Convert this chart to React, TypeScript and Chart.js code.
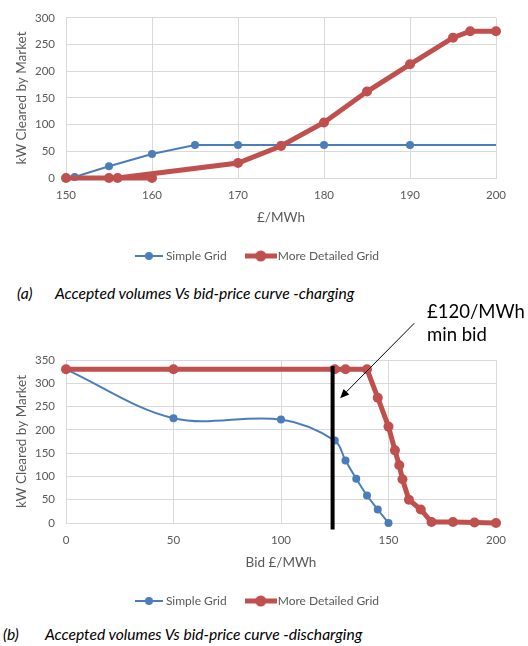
import React, { useEffect, useRef } from 'react';
import { Chart, registerables } from 'chart.js';

Chart.register(...registerables);

const FONT = 'Lato, "Open Sans", sans-serif';
const BLUE = '#4a7ebb';
const RED = '#c0504d';
const GRID = '#d9d9d9';
const TEXT = '#595959';

const seriesNames = ['Simple Grid', 'More Detailed Grid'];

// (a) charging
const chargeSimplePrice = [151, 155, 160, 165, 170, 175, 180, 190, 200];
const chargeSimpleKW = [2, 22, 45, 62, 62, 62, 62, 62, 62];
const chargeDetailedPrice = [150, 160, 155, 156, 170, 175, 180, 185, 190, 195, 197, 200];
const chargeDetailedKW = [0, 0, 0, 0, 28, 60, 104, 162, 213, 263, 275, 275];
const chargeXAxis = [150, 200, 10];
const chargeYAxis = [0, 300, 50];

// (b) discharging
const dischargeSimpleBid = [0, 50, 100, 125, 130, 135, 140, 145, 150];
const dischargeSimpleKW = [330, 225, 222, 177, 134, 95, 59, 29, 0];
const dischargeDetailedBid = [0, 50, 125, 130, 140, 145, 150, 153, 155, 156.5, 159.5, 165, 170, 180, 190, 200];
const dischargeDetailedKW = [330, 330, 330, 330, 330, 269, 207, 156, 124, 94, 50, 29, 2, 2, 1, 0];
const dischargeXAxis = [0, 200, 50];
const dischargeYAxis = [0, 350, 50];

// annotation (data units)
const minBidPrice = 124;
const minBidSpan = [337, -14];
const arrowTail = [162, 429];
const arrowHead = [127.5, 268];

const zip = (xs: number[], ys: number[]) => xs.map((x, i) => ({ x, y: ys[i] }));

function legendIcon(color: string, width: number, lineWidth: number, radius: number) {
  const c = document.createElement('canvas');
  c.width = width;
  c.height = 14;
  const ctx = c.getContext('2d')!;
  ctx.strokeStyle = color;
  ctx.lineWidth = lineWidth;
  ctx.beginPath();
  ctx.moveTo(0, 7);
  ctx.lineTo(width, 7);
  ctx.stroke();
  ctx.fillStyle = color;
  ctx.beginPath();
  ctx.arc(width / 2, 7, radius, 0, Math.PI * 2);
  ctx.fill();
  return c;
}

function buildConfig(opts: any) {
  const { simple, detailed, xAxis, yAxis, xTitle, topPad, smoothSimple, hideLastSimplePoint, extra, plugins } = opts;
  const blueIcon = legendIcon(BLUE, 28, 2, 4);
  const redIcon = legendIcon(RED, 32, 5, 5.5);
  const nSimple = simple.length;
  return {
    type: 'scatter',
    data: {
      datasets: [
        {
          label: seriesNames[0],
          data: simple,
          showLine: true,
          borderColor: BLUE,
          backgroundColor: BLUE,
          borderWidth: 2,
          pointRadius: (c: any) => (hideLastSimplePoint && c.dataIndex === nSimple - 1 ? 0 : 4),
          pointBorderWidth: 0,
          tension: smoothSimple ? 0.35 : 0,
          order: 2,
          clip: false,
        },
        {
          label: seriesNames[1],
          data: detailed,
          showLine: true,
          borderColor: RED,
          backgroundColor: RED,
          borderWidth: 5,
          pointRadius: 5,
          pointBorderWidth: 0,
          tension: 0,
          order: 1,
          clip: false,
        },
        ...(extra || []),
      ],
    },
    options: {
      responsive: false,
      animation: false,
      devicePixelRatio: 1,
      layout: { padding: { top: topPad, right: 11, bottom: 3, left: 0 } },
      plugins: {
        tooltip: { enabled: false },
        legend: {
          position: 'bottom',
          labels: {
            usePointStyle: true,
            pointStyleWidth: 22,
            padding: 23,
            color: TEXT,
            font: { family: FONT, size: 12 },
            generateLabels: () => [
              { text: seriesNames[0], pointStyle: blueIcon, fillStyle: BLUE, strokeStyle: BLUE, lineWidth: 0, hidden: false, datasetIndex: 0, fontColor: TEXT },
              { text: seriesNames[1], pointStyle: redIcon, fillStyle: RED, strokeStyle: RED, lineWidth: 0, hidden: false, datasetIndex: 1, fontColor: TEXT },
            ],
          },
        },
      },
      scales: {
        x: {
          type: 'linear',
          min: xAxis[0],
          max: xAxis[1],
          ticks: { stepSize: xAxis[2], padding: 10, color: TEXT, font: { family: FONT, size: 11.5 } },
          grid: { color: GRID, drawTicks: false },
          border: { color: GRID },
          title: { display: true, text: xTitle, color: TEXT, font: { family: FONT, size: 13.5 }, padding: { top: 8, bottom: 1 } },
          afterFit: (s: any) => { s.height = 49; },
        },
        y: {
          min: yAxis[0],
          max: yAxis[1],
          ticks: { stepSize: yAxis[2], padding: 11, color: TEXT, font: { family: FONT, size: 11.5 } },
          grid: { color: GRID, drawTicks: false },
          border: { color: GRID },
          title: { display: true, text: 'kW Cleared by Market', color: TEXT, font: { family: FONT, size: 13.5 }, padding: { top: 13.6, bottom: 0 } },
          afterFit: (s: any) => { s.width = 66; },
        },
        y2: {
          position: 'right',
          display: true,
          min: 0,
          max: 1,
          grid: { display: false, drawTicks: false },
          border: { display: false },
          ticks: { display: false },
          afterFit: (s: any) => { s.width = 21; },
        },
      },
    },
    plugins: plugins || [],
  };
}

const arrowPlugin = {
  id: 'minBidArrow',
  afterDatasetsDraw(chart: any) {
    const { ctx, scales } = chart;
    const x = scales.x, y = scales.y;
    const x0 = x.getPixelForValue(arrowTail[0]);
    const y0 = y.getPixelForValue(arrowTail[1]);
    const x1 = x.getPixelForValue(arrowHead[0]);
    const y1 = y.getPixelForValue(arrowHead[1]);
    const ang = Math.atan2(y1 - y0, x1 - x0);
    const L = 9, W = 4;
    const bx = x1 - L * Math.cos(ang);
    const by = y1 - L * Math.sin(ang);
    ctx.save();
    ctx.strokeStyle = '#000';
    ctx.fillStyle = '#000';
    ctx.lineWidth = 1;
    ctx.beginPath();
    ctx.moveTo(x0, y0);
    ctx.lineTo(bx, by);
    ctx.stroke();
    ctx.beginPath();
    ctx.moveTo(x1, y1);
    ctx.lineTo(bx + W * Math.sin(ang), by - W * Math.cos(ang));
    ctx.lineTo(bx - W * Math.sin(ang), by + W * Math.cos(ang));
    ctx.closePath();
    ctx.fill();
    ctx.restore();
  },
};

function ChartCanvas({ top, height, make }: { top: number; height: number; make: () => any }) {
  const ref = useRef<HTMLCanvasElement>(null);
  useEffect(() => {
    const chart = new Chart(ref.current as HTMLCanvasElement, make());
    return () => chart.destroy();
  }, []);
  return (
    <canvas
      ref={ref}
      width={528}
      height={height}
      style={{ position: 'absolute', left: 0, top, width: 528, height }}
    />
  );
}

const captionStyle: React.CSSProperties = {
  position: 'absolute',
  fontFamily: FONT,
  fontStyle: 'italic',
  fontSize: 15.6,
  lineHeight: '18px',
  color: '#000',
  whiteSpace: 'nowrap',
};

export default function App() {
  const makeA = () =>
    buildConfig({
      simple: zip(chargeSimplePrice, chargeSimpleKW),
      detailed: zip(chargeDetailedPrice, chargeDetailedKW),
      xAxis: chargeXAxis,
      yAxis: chargeYAxis,
      xTitle: '£/MWh',
      topPad: 15,
      smoothSimple: false,
      hideLastSimplePoint: true,
    });
  const makeB = () =>
    buildConfig({
      simple: zip(dischargeSimpleBid, dischargeSimpleKW),
      detailed: zip(dischargeDetailedBid, dischargeDetailedKW),
      xAxis: dischargeXAxis,
      yAxis: dischargeYAxis,
      xTitle: 'Bid £/MWh',
      topPad: 60,
      smoothSimple: true,
      hideLastSimplePoint: false,
      extra: [
        {
          label: 'min bid',
          data: [
            { x: minBidPrice, y: minBidSpan[0] },
            { x: minBidPrice, y: minBidSpan[1] },
          ],
          showLine: true,
          borderColor: '#000',
          backgroundColor: '#000',
          borderWidth: 4,
          pointRadius: 0,
          order: 0,
          clip: false,
        },
      ],
      plugins: [arrowPlugin],
    });

  return (
    <div style={{ position: 'absolute', left: 0, top: 0, width: 528, height: 646, background: '#fff', overflow: 'hidden' }}>
      <ChartCanvas top={0} height={275} make={makeA} />
      <div style={{ ...captionStyle, left: 17, top: 284 }}>(a)</div>
      <div style={{ ...captionStyle, left: 55, top: 284 }}>Accepted volumes Vs bid-price curve -charging</div>
      <ChartCanvas top={300} height={320} make={makeB} />
      <div
        style={{
          position: 'absolute',
          left: 427,
          top: 300,
          fontFamily: FONT,
          fontSize: 18.5,
          lineHeight: '23px',
          color: '#000',
          whiteSpace: 'nowrap',
        }}
      >
        £120/MWh
        <br />
        min bid
      </div>
      <div style={{ ...captionStyle, left: 3, top: 625 }}>(b)</div>
      <div style={{ ...captionStyle, left: 45, top: 625 }}>Accepted volumes Vs bid-price curve -discharging</div>
    </div>
  );
}
